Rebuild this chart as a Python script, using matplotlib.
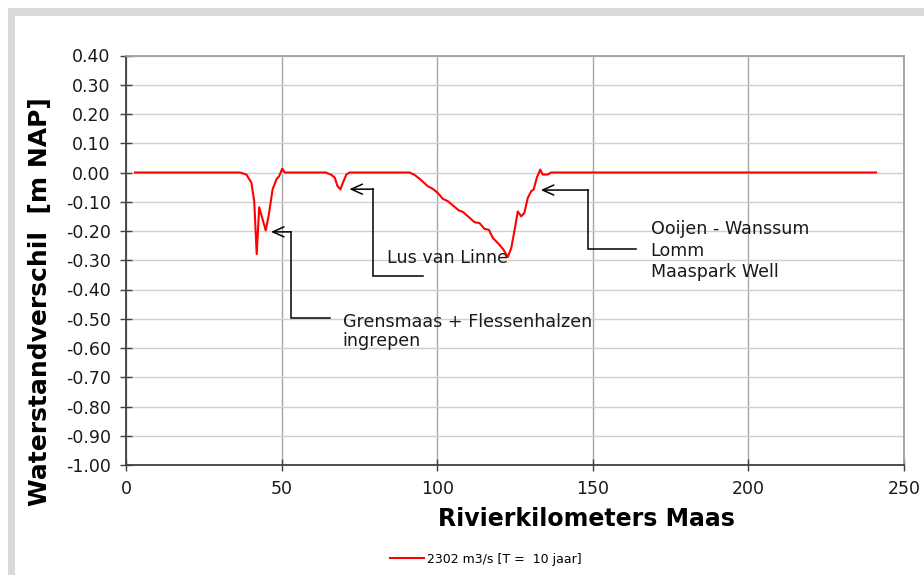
import matplotlib
matplotlib.use('Agg')
import matplotlib.pyplot as plt
from matplotlib.patches import Rectangle
from matplotlib.ticker import MultipleLocator, FormatStrFormatter

# river km vs. water level difference (m NAP)
km = [2.9, 36.6, 38.7, 40.3, 41.2, 42.0, 42.8, 44.9, 45.9, 47.1,
      48.4, 49.2, 50.2, 51.0, 64.2, 66.0, 67.1, 67.9, 68.9, 69.7,
      70.8, 71.9, 91.1, 92.7, 94.4, 97.0, 98.6, 100.2, 101.8, 103.4,
      107.0, 108.3, 112.0, 113.6, 115.2, 116.6, 117.9, 120.0, 121.3, 122.7,
      123.8, 124.8, 125.9, 127.0, 128.0, 129.1, 130.2, 131.0, 132.0, 133.1,
      133.9, 135.5, 136.6, 241.0]
diff = [0, 0, -0.007, -0.035, -0.098, -0.279, -0.119, -0.198, -0.144, -0.058,
        -0.022, -0.013, 0.013, 0, 0, -0.008, -0.018, -0.045, -0.058, -0.035,
        -0.007, 0, 0, -0.008, -0.022, -0.047, -0.056, -0.07, -0.09, -0.098,
        -0.13, -0.135, -0.17, -0.173, -0.193, -0.196, -0.224, -0.247, -0.264, -0.289,
        -0.258, -0.201, -0.133, -0.15, -0.138, -0.087, -0.064, -0.058, -0.018, 0.01,
        -0.007, -0.007, 0, 0]
series_label = '2302 m3/s [T =  10 jaar]'

# annotations: text lines, arrow tip, elbow polyline, text anchor + line baselines
notes = [
    (['Grensmaas + Flessenhalzen', 'ingrepen'], (46.6, -0.203),
     [(53.0, -0.203), (53.0, -0.497), (65.6, -0.497)], 69.6, [-0.529, -0.593]),
    (['Lus van Linne'], (71.8, -0.057),
     [(79.5, -0.057), (79.5, -0.353), (95.3, -0.353)], 83.9, [-0.309]),
    (['Ooijen - Wanssum', 'Lomm', 'Maaspark Well'], (133.3, -0.060),
     [(148.6, -0.060), (148.6, -0.263), (163.9, -0.263)], 168.6, [-0.210, -0.284, -0.356]),
]

W, H = 924, 575
fig = plt.figure(figsize=(W / 100, H / 100), dpi=100)

# grey frame around the chart area
fig.add_artist(Rectangle((8 / W, -0.1), 1.2, 1 - 8 / H + 0.1, transform=fig.transFigure,
                         facecolor='#d9d9d9', edgecolor='none', zorder=-10))
fig.add_artist(Rectangle((15 / W, -0.1), 1.2, 1 - 16 / H + 0.1, transform=fig.transFigure,
                         facecolor='white', edgecolor='none', zorder=-9))

ax = fig.add_axes([126 / W, (H - 465) / H, (904 - 126) / W, (465 - 55.5) / H])
line, = ax.plot(km, diff, color='#ff0000', lw=1.5, label=series_label, zorder=5)

ax.set_xlim(0, 250)
ax.set_ylim(-1.0, 0.4)
ax.xaxis.set_major_locator(MultipleLocator(50))
ax.yaxis.set_major_locator(MultipleLocator(0.1))
ax.yaxis.set_major_formatter(FormatStrFormatter('%.2f'))

ax.grid(axis='x', color='#a6a6a6', lw=1.0)
ax.grid(axis='y', color='#d0d0d0', lw=1.0)
ax.set_axisbelow(True)

for s in ['left', 'bottom']:
    ax.spines[s].set_color('#404040')
    ax.spines[s].set_linewidth(1.3)
for s in ['top', 'right']:
    ax.spines[s].set_color('#a0a0a0')
    ax.spines[s].set_linewidth(1.3)

ax.tick_params(axis='both', direction='inout', length=8, width=1, color='#404040',
               labelsize=12.5, labelcolor='#1a1a1a')
ax.tick_params(axis='y', pad=7)
ax.tick_params(axis='x', pad=7)

for lines, tip, path, tx, bases in notes:
    ax.annotate('', xy=tip, xytext=path[0],
                arrowprops=dict(arrowstyle='->,head_length=0.8,head_width=0.36',
                                color='black', lw=1.1, shrinkA=0, shrinkB=0))
    ax.plot([p[0] for p in path], [p[1] for p in path], color='black', lw=1.1,
            solid_joinstyle='miter')
    for txt, yb in zip(lines, bases):
        ax.text(tx, yb, txt, fontsize=12.6, va='baseline', ha='left', color='#1a1a1a')

fig.text(47 / W, 1 - 302 / H, 'Waterstandverschil  [m NAP]', rotation=90,
         rotation_mode='anchor', ha='center', va='baseline',
         fontsize=18, fontweight='bold')
fig.text(586 / W, 1 - 526 / H, 'Rivierkilometers Maas', ha='center', va='baseline',
         fontsize=17, fontweight='bold')

fig.legend(handles=[line], loc='center', bbox_to_anchor=(486 / W, 1 - 559 / H),
           frameon=False, fontsize=9, handlelength=2.7, handletextpad=0.3)

fig.savefig('out.png', dpi=100)
